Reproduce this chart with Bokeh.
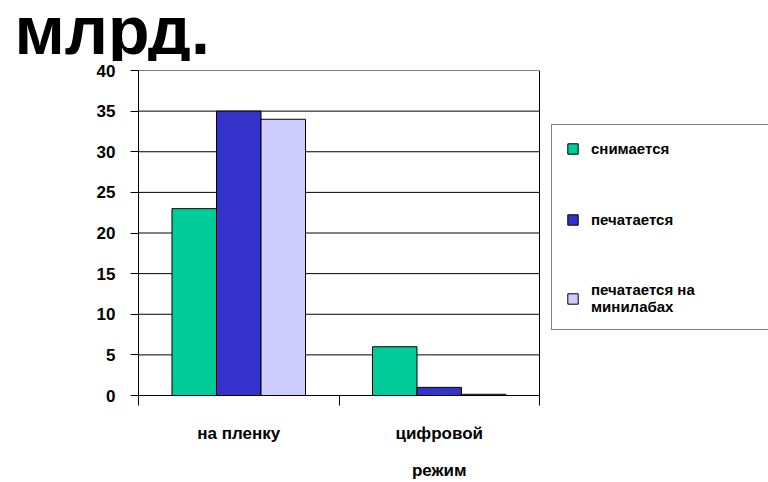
from bokeh.plotting import figure
from bokeh.layouts import column
from bokeh.models import ColumnDataSource, Range1d, FixedTicker, Legend, LegendItem, Label
from bokeh.transform import dodge
from bokeh.embed import file_html
from bokeh.resources import INLINE

# ---- data ----
title_text = "млрд."
categories = ["на пленку", "цифровой\nрежим"]
series_names = ["снимается", "печатается", "печатается на\nминилабах"]
snimaetsya = [23, 6]
pechataetsya = [35, 1]
minilab = [34, 0.15]
y_ticks = [0, 5, 10, 15, 20, 25, 30, 35, 40]
colors = ["#00CC99", "#3333CC", "#CCCCFF"]

FONT = "Liberation Sans"
W = 768
TITLE_H = 61
CHART_H = 482 - TITLE_H
LEFT = 138
PLOT_W = 401          # width of the category area in pixels
TOP = 70 - TITLE_H    # chart frame top at canvas y=70
n = len(categories)

# ---- title strip ----
t = figure(width=W, height=TITLE_H, output_backend="svg", toolbar_location=None, title=None,
           x_axis_location=None, y_axis_location=None,
           x_range=Range1d(0, W), y_range=Range1d(0, TITLE_H),
           min_border_left=0, min_border_right=0, min_border_top=0, min_border_bottom=0)
t.outline_line_color = None
t.grid.visible = False
t.add_layout(Label(x=14, y=TITLE_H - 29.5, text=title_text,
                   text_font=FONT, text_font_style="bold", text_font_size="68px",
                   text_color="black", text_baseline="middle", text_align="left"))

# ---- chart ----
centers = [i + 0.5 for i in range(n)]
src = ColumnDataSource(dict(x=centers, s0=snimaetsya, s1=pechataetsya, s2=minilab))

x_end = n * (W - LEFT) / PLOT_W   # frame reaches the right edge, categories fill PLOT_W px
p = figure(width=W, height=CHART_H, x_range=Range1d(0, x_end), y_range=Range1d(0, 40),
           output_backend="svg", toolbar_location=None, title=None,
           min_border_left=LEFT, min_border_right=0, min_border_top=TOP, min_border_bottom=87)
p.background_fill_color = "white"
p.border_fill_color = "white"
p.outline_line_color = None

for fig in (t, p):
    if "frame_align" in fig.properties():
        fig.frame_align = False

# gridlines and right border of the plot area
p.segment(x0=0, x1=n, y0=y_ticks, y1=y_ticks, line_color="black", line_width=1)
p.segment(x0=[n], x1=[n], y0=[y_ticks[0]], y1=[y_ticks[-1]], line_color="black", line_width=1)

bw = 0.222
renderers = []
for j, col in enumerate(["s0", "s1", "s2"]):
    r = p.vbar(x=dodge("x", (j - 1) * bw), top=col, bottom=0, width=bw, source=src,
               fill_color=colors[j], line_color="black", line_width=1)
    renderers.append(r)

# x axis: labels at category centres, ticks at category boundaries
p.xaxis.bounds = (0, n)
p.xaxis.ticker = FixedTicker(ticks=centers, minor_ticks=[float(i) for i in range(n + 1)])
p.xaxis.major_label_overrides = {c: lab for c, lab in zip(centers, categories)}
p.xaxis.major_tick_out = 0
p.xaxis.major_tick_in = 0
p.xaxis.minor_tick_out = 10
p.xaxis.minor_tick_in = 0
p.xaxis.minor_tick_line_color = "black"
p.xaxis.axis_line_color = "black"
p.xaxis.major_label_text_font = FONT
p.xaxis.major_label_text_font_style = "bold"
p.xaxis.major_label_text_font_size = "17px"
p.xaxis.major_label_text_color = "black"
p.xaxis.major_label_text_line_height = 1.95
p.xaxis.major_label_standoff = 18

# y axis
p.yaxis.ticker = FixedTicker(ticks=y_ticks, minor_ticks=[])
p.yaxis.major_tick_out = 8
p.yaxis.major_tick_in = 0
p.yaxis.major_tick_line_color = "black"
p.yaxis.axis_line_color = "black"
p.yaxis.major_label_text_font = FONT
p.yaxis.major_label_text_font_style = "bold"
p.yaxis.major_label_text_font_size = "17px"
p.yaxis.major_label_text_color = "black"
p.yaxis.major_label_standoff = 15

p.xgrid.visible = False
p.ygrid.visible = False

legend = Legend(items=[LegendItem(label=s, renderers=[r]) for s, r in zip(series_names, renderers)],
                location=(413, 65), border_line_color="black", border_line_width=1,
                background_fill_color="white", background_fill_alpha=1,
                label_text_font=FONT, label_text_font_style="bold", label_text_font_size="15px",
                label_text_color="black",
                glyph_width=13, glyph_height=13, label_height=19, label_width=300,
                spacing=52, padding=14, margin=0, label_standoff=12)
p.add_layout(legend)

open("out.html", "w").write(file_html(column(t, p, spacing=0), INLINE))
